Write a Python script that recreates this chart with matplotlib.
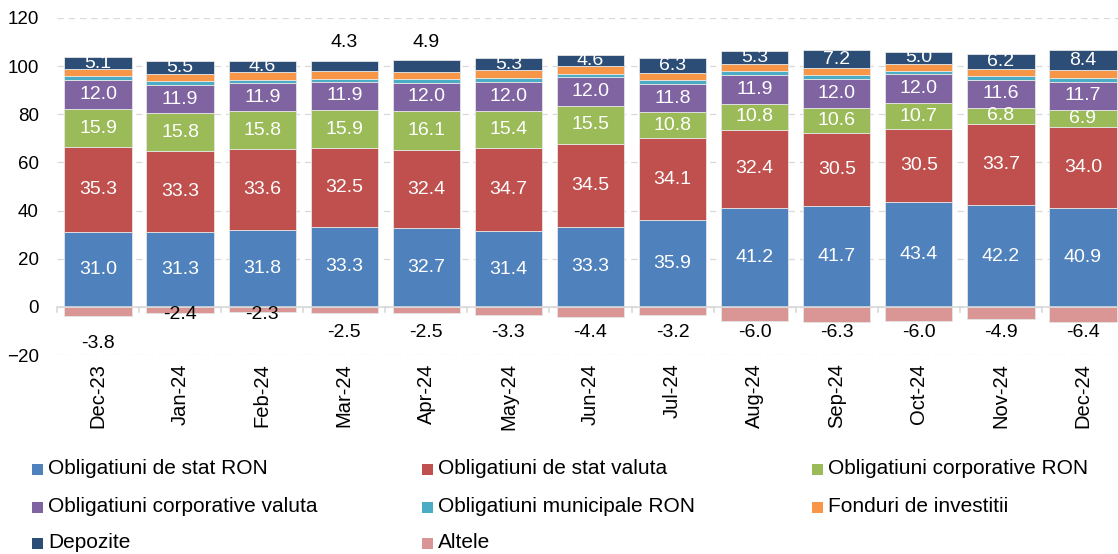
import matplotlib
matplotlib.use("Agg")
import matplotlib.pyplot as plt
from matplotlib.patches import Rectangle
import numpy as np

plt.rcParams['font.family'] = ['Liberation Sans', 'DejaVu Sans']

months = ["Dec-23", "Jan-24", "Feb-24", "Mar-24", "Apr-24", "May-24", "Jun-24",
          "Jul-24", "Aug-24", "Sep-24", "Oct-24", "Nov-24", "Dec-24"]

stat_ron = [31.0, 31.3, 31.8, 33.3, 32.7, 31.4, 33.3, 35.9, 41.2, 41.7, 43.4, 42.2, 40.9]
stat_val = [35.3, 33.3, 33.6, 32.5, 32.4, 34.7, 34.5, 34.1, 32.4, 30.5, 30.5, 33.7, 34.0]
corp_ron = [15.9, 15.8, 15.8, 15.9, 16.1, 15.4, 15.5, 10.8, 10.8, 10.6, 10.7, 6.8, 6.9]
corp_val = [12.0, 11.9, 11.9, 11.9, 12.0, 12.0, 12.0, 11.8, 11.9, 12.0, 12.0, 11.6, 11.7]
munic_ron = [1.5, 1.5, 1.2, 1.2, 1.5, 1.5, 1.4, 1.5, 1.5, 1.6, 1.4, 1.5, 1.5]
fonduri = [3.0, 3.0, 3.2, 3.0, 2.9, 3.2, 3.2, 3.0, 3.2, 2.9, 2.9, 3.0, 3.2]
depozite = [5.1, 5.5, 4.6, 4.3, 4.9, 5.3, 4.6, 6.3, 5.3, 7.2, 5.0, 6.2, 8.4]
altele = [-3.8, -2.4, -2.3, -2.5, -2.5, -3.3, -4.4, -3.2, -6.0, -6.3, -6.0, -4.9, -6.4]

series = [
    ("Obligatiuni de stat RON", stat_ron, "#4F81BD", True),
    ("Obligatiuni de stat valuta", stat_val, "#C0504D", True),
    ("Obligatiuni corporative RON", corp_ron, "#9BBB59", True),
    ("Obligatiuni corporative valuta", corp_val, "#8064A2", True),
    ("Obligatiuni municipale RON", munic_ron, "#4BACC6", False),
    ("Fonduri de investitii", fonduri, "#F79646", False),
    ("Depozite", depozite, "#2C4D75", True),
]
altele_color = "#D99694"

W, H = 1118, 554
fig = plt.figure(figsize=(W / 100, H / 100), dpi=100)
ax_left, ax_right, ax_top, ax_bottom = 57, 1124, 18, 355
ax = fig.add_axes([ax_left / W, 1 - ax_bottom / H, (ax_right - ax_left) / W, (ax_bottom - ax_top) / H])

x = np.arange(len(months))
bw = 0.82
fs_lab = 14
fs_y = 13.5
fs_x = 14.5
fs_leg = 15

bottom = np.zeros(len(months))
for name, vals, col, lab in series:
    v = np.array(vals)
    ax.bar(x, v, bw, bottom=bottom, color=col, edgecolor="#E6E6E6", linewidth=0.6, zorder=3)
    if lab:
        for i in range(len(months)):
            if name == "Depozite" and i in (3, 4):
                ax.text(x[i], 110, f"{v[i]:.1f}", ha="center", va="center", fontsize=fs_lab, color="black", zorder=5)
            else:
                ax.text(x[i], bottom[i] + v[i] / 2, f"{v[i]:.1f}", ha="center", va="center",
                        fontsize=fs_lab, color="white", zorder=5)
    bottom = bottom + v

alt = np.array(altele)
ax.bar(x, alt, bw, color=altele_color, edgecolor="#E6E6E6", linewidth=0.6, zorder=3)
for i in range(len(months)):
    if i == 0:
        ly = -15.3
    elif i in (1, 2):
        ly = -3.0
    else:
        ly = -10.6
    ax.text(x[i], ly, f"{alt[i]:.1f}", ha="center", va="center", fontsize=fs_lab, color="black", zorder=5)

ax.set_xlim(-0.5, len(months) - 0.5)
ax.set_ylim(-20, 120)
ax.set_yticks(np.arange(-20, 121, 20))
ax.tick_params(axis="y", length=0, labelsize=fs_y, pad=13)
ax.set_xticks(x)
ax.set_xticklabels(months, rotation=90, fontsize=fs_x)
ax.tick_params(axis="x", length=0, pad=6)
for s in ax.spines.values():
    s.set_visible(False)
ax.yaxis.grid(True, color="#D9D9D9", linestyle=(0, (5, 4)), linewidth=0.9, zorder=0)
ax.axhline(0, color="#D9D9D9", linewidth=1.2, zorder=4)
for b in np.arange(-0.5, len(months), 1.0):
    ax.plot([b, b], [0, -2.2], color="#D9D9D9", linewidth=1.2, zorder=4, clip_on=False)

# legend
items = [s[0] for s in series] + ["Altele"]
cols = [s[2] for s in series] + [altele_color]
col_x = [32, 422, 812]
row_y = [469, 507, 543]
for k, (nm, c) in enumerate(zip(items, cols)):
    r, cc = divmod(k, 3)
    px, py = col_x[cc], row_y[r]
    fig.add_artist(Rectangle((px / W, 1 - (py + 5.5) / H), 11 / W, 11 / H, transform=fig.transFigure,
                             facecolor=c, edgecolor="none"))
    fig.text((px + 16) / W, 1 - py / H, nm, fontsize=fs_leg, va="center", ha="left")

fig.savefig("out.png", dpi=100)
